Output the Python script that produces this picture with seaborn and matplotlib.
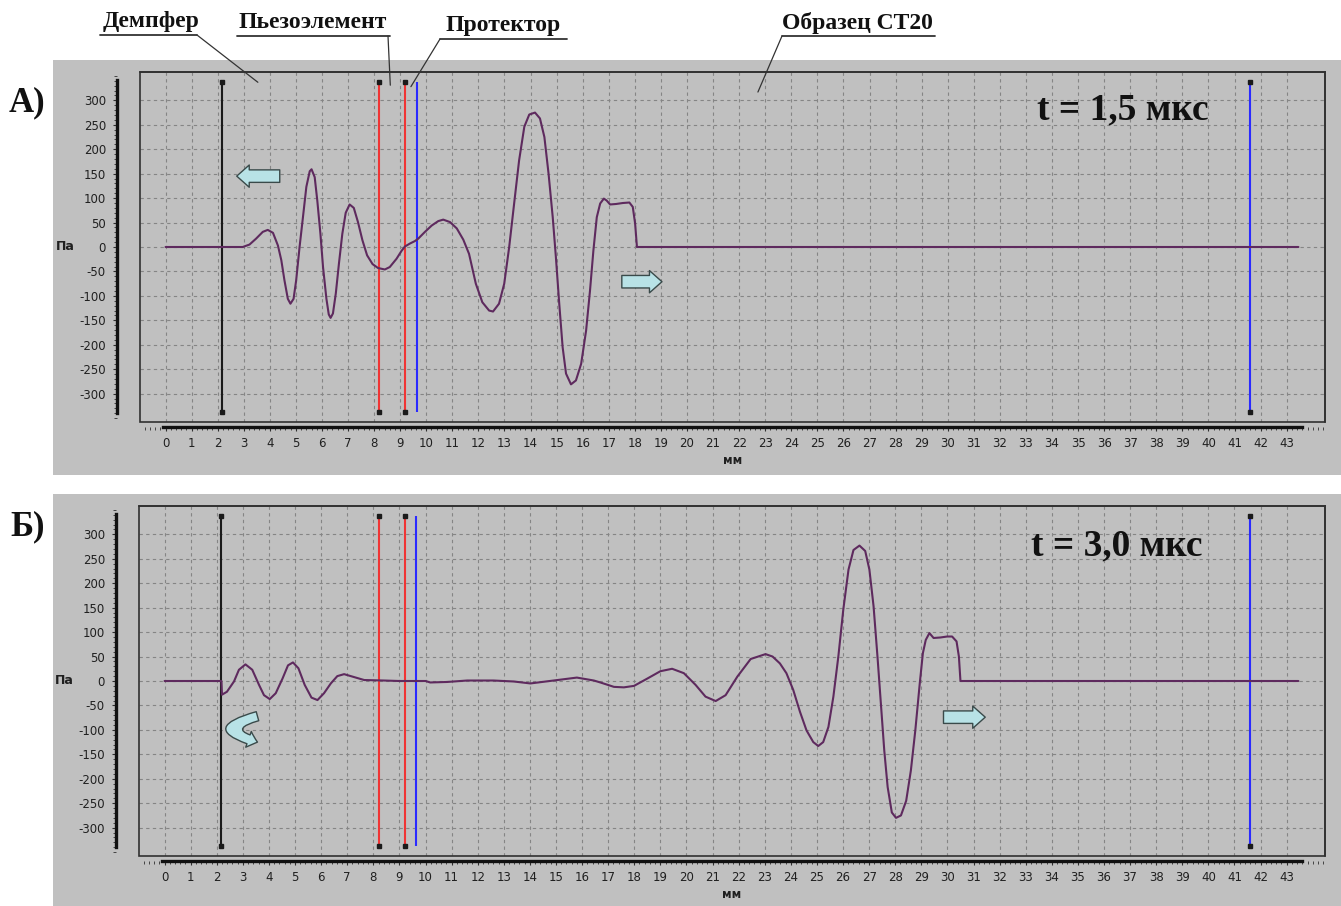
import matplotlib
matplotlib.use("Agg")
import matplotlib.pyplot as plt
import seaborn as sns
from matplotlib.lines import Line2D
from matplotlib.patches import Rectangle
from matplotlib.ticker import MultipleLocator

# panel A: t = 1,5 мкс  (x in мм, pressure in Па)
xa = [0, 2.96, 3.22, 3.47, 3.73, 3.92, 4.12, 4.31, 4.44, 4.56,
      4.69, 4.79, 4.91, 5.01, 5.14, 5.27, 5.40, 5.53, 5.60, 5.72,
      5.82, 5.94, 6.04, 6.17, 6.26, 6.33, 6.42, 6.53, 6.65, 6.78,
      6.91, 7.06, 7.22, 7.38, 7.55, 7.73, 7.94, 8.15, 8.41, 8.60,
      8.86, 9.05, 9.18, 9.37, 9.56, 9.69, 9.95, 10.21, 10.46, 10.65,
      10.91, 11.17, 11.42, 11.64, 11.9, 12.15, 12.41, 12.56, 12.79, 12.99,
      13.18, 13.37, 13.56, 13.76, 13.95, 14.17, 14.36, 14.53, 14.69, 14.85,
      14.97, 15.1, 15.23, 15.36, 15.55, 15.74, 15.94, 16.13, 16.28, 16.41,
      16.54, 16.67, 16.81, 16.92, 17.05, 17.28, 17.54, 17.79, 17.92, 18.01,
      18.08, 43.45]
pa = [0, 0, 5, 17, 31, 35, 29, 3, -27, -68,
      -106, -116, -106, -68, 0, 61, 123, 155, 159, 143,
      95, 27, -41, -106, -138, -145, -136, -95, -34, 27,
      70, 87, 80, 51, 14, -17, -35, -43, -46, -41,
      -24, -8, 1, 7, 12, 17, 31, 44, 53, 56,
      51, 38, 15, -14, -75, -113, -130, -132, -116, -75,
      0, 89, 177, 246, 271, 275, 263, 225, 150, 61,
      -20, -116, -205, -259, -281, -273, -239, -171, -89, -7,
      61, 89, 99, 95, 87, 88, 90, 91, 82, 48,
      0, 0]

# panel B: t = 3,0 мкс
xb = [0, 2.18, 2.2, 2.39, 2.66, 2.85, 3.1, 3.36, 3.62, 3.81,
      4.03, 4.26, 4.52, 4.73, 4.92, 5.13, 5.37, 5.63, 5.86, 6.11,
      6.37, 6.62, 6.88, 7.2, 7.65, 8.4, 9.0, 10.0, 10.18, 10.82,
      11.6, 12.6, 13.38, 14.02, 14.91, 15.8, 16.45, 16.7, 17.22, 17.6,
      17.99, 18.5, 19.0, 19.45, 19.9, 20.35, 20.73, 21.12, 21.5, 21.95,
      22.46, 23.03, 23.3, 23.58, 23.83, 24.09, 24.35, 24.6, 24.86, 25.05,
      25.24, 25.44, 25.63, 25.82, 26.01, 26.21, 26.4, 26.63, 26.85, 27.01,
      27.17, 27.32, 27.45, 27.58, 27.71, 27.87, 28.03, 28.22, 28.42, 28.6,
      28.77, 28.94, 29.06, 29.17, 29.31, 29.47, 29.73, 29.99, 30.18, 30.35,
      30.44, 30.5, 43.45]
pb = [0, 0, -28, -22, -1, 23, 34, 23, -8, -29,
      -37, -25, 5, 32, 38, 26, -8, -34, -39, -25,
      -5, 10, 14, 9, 2, 1, 0, 0, -3, -2,
      1, 1, -1, -5, 1, 7, 1, -3, -12, -13,
      -10, 5, 20, 25, 16, -8, -32, -41, -29, 9,
      45, 55, 50, 36, 16, -18, -63, -101, -125, -133,
      -125, -94, -32, 50, 146, 228, 268, 277, 266, 228,
      153, 50, -46, -142, -217, -269, -280, -275, -245, -183,
      -101, -5, 57, 84, 98, 88, 89, 91, 91, 81,
      50, 0, 0]

# layer boundaries (мм)
marker_x = [2.18, 8.2, 9.2, 9.65, 41.6]
marker_col = ["#1a1a1a", "#f03434", "#f03434", "#2a2aff", "#2a2aff"]
marker_dots = [True, True, True, False, True]
marker_top = 337

x_ticks = list(range(0, 44))
y_ticks = list(range(-300, 301, 50))

sns.set_style("ticks")
plt.rcParams["font.family"] = ["DejaVu Sans"]
plt.rcParams["axes.unicode_minus"] = False
plt.rcParams["xtick.color"] = "#303030"
plt.rcParams["ytick.color"] = "#303030"

W, H = 1341, 906
fig = plt.figure(figsize=(W / 100, H / 100), dpi=100)
fig.patch.set_facecolor("white")
GRAY = "#c0c0c0"
SERIF = ["Liberation Serif", "DejaVu Serif"]


def fx(px):
    return px / W


def fy(py):
    return 1 - py / H


def arrow(ax, start, end, rad=0.0, scale=20):
    ax.annotate("", xy=end, xytext=start, xycoords="data", textcoords="data",
                arrowprops=dict(arrowstyle="simple,head_length=0.45,head_width=0.8,tail_width=0.45",
                                connectionstyle=f"arc3,rad={rad}", mutation_scale=scale,
                                facecolor="#b8e2e6", edgecolor="#3a4a4a", lw=1.0,
                                shrinkA=0, shrinkB=0), zorder=6)


def panel(top, bottom, left, xs, ps, tlabel, tpos, letter, letter_xy):
    fig.add_artist(Rectangle((fx(53), fy(bottom + 53)), 1 - fx(53), (bottom + 53 - top + 12) / H,
                             transform=fig.transFigure, facecolor=GRAY, edgecolor="none",
                             zorder=-2))
    ax = fig.add_axes([fx(left), fy(bottom), (1325 - left) / W, (bottom - top) / H])
    ax.set_facecolor(GRAY)
    sns.lineplot(x=xs, y=ps, ax=ax, color="#5e2a5e", linewidth=1.5, sort=False,
                 estimator=None, zorder=4)
    for mx, mc, md in zip(marker_x, marker_col, marker_dots):
        ax.vlines(mx, -marker_top, marker_top, color=mc, linewidth=1.5, zorder=3)
        if md:
            ax.plot([mx, mx], [-marker_top, marker_top], linestyle="none", marker="s",
                    markersize=3.2, color="#1a1a1a", zorder=5)
    ax.set_xlim(-0.98, 44.47)
    ax.set_ylim(-358, 358)
    ax.set_xticks(x_ticks)
    ax.set_yticks(y_ticks)
    ax.xaxis.set_minor_locator(MultipleLocator(0.2))
    ax.yaxis.set_minor_locator(MultipleLocator(10))
    ax.grid(True, which="major", color="#858585", linestyle=(0, (3, 3)), linewidth=0.8)
    ax.tick_params(axis="both", which="major", labelsize=8.5, length=3, width=0.8,
                   labelcolor="#202020")
    ax.tick_params(axis="both", which="minor", length=2, width=0.6)
    ax.tick_params(axis="x", which="major", pad=4)
    ax.tick_params(axis="y", which="major", pad=5)
    for s in ["top", "right"]:
        ax.spines[s].set_linewidth(1.2)
        ax.spines[s].set_color("#303030")
    ax.spines["left"].set_position(("outward", 16.5))
    ax.spines["bottom"].set_position(("outward", 3.6))
    ax.spines["left"].set_bounds(-340, 341)
    ax.spines["bottom"].set_bounds(-0.1, 43.6)
    for s in ["left", "bottom"]:
        ax.spines[s].set_linewidth(2.4)
        ax.spines[s].set_color("#111111")
    ax.add_patch(Rectangle((0, 0), 1, 1, transform=ax.transAxes, fill=False,
                           edgecolor="#303030", linewidth=1.2, clip_on=False, zorder=7))
    ax.set_xlabel("мм", fontsize=8.5, fontweight="bold", labelpad=3, color="#202020")
    ax.set_ylabel("")
    ax.annotate("Па", xy=(0, 0), xycoords=("axes fraction", "data"), xytext=(-54, 0),
                textcoords="offset points", ha="center", va="center", fontsize=9,
                fontweight="bold", color="#202020")
    ax.text(tpos[0], tpos[1], tlabel, ha="center", va="center", fontsize=27,
            fontweight="bold", family=SERIF, color="#111111")
    fig.text(fx(letter_xy[0]), fy(letter_xy[1]), letter, ha="center", va="center",
             fontsize=25, fontweight="bold", family=SERIF, color="#111111")
    return ax


axA = panel(72, 422, 140, xa, pa, "t = 1,5 мкс", (36.7, 280), "А)", (27, 103))
axB = panel(506, 856, 139, xb, pb, "t = 3,0 мкс", (36.5, 277), "Б)", (28, 527))

# direction arrows
arrow(axA, (4.38, 145), (2.73, 145))
arrow(axA, (17.5, -71), (19.04, -71))
arrow(axB, (29.85, -74), (31.45, -74))
arrow(axB, (3.56, -72), (3.56, -125), rad=1.8, scale=15)

# layer captions with leader lines
captions = [
    ("Демпфер", 151, 100, 197, 35, (3.54, 337), 197),
    ("Пьезоэлемент", 313, 237, 390, 36, (8.62, 331), 388),
    ("Протектор", 503, 440, 567, 39, (9.41, 328), 440),
    ("Образец СТ20", 857, 782, 935, 36, (22.72, 317), 782),
]
for label, cx, ux0, ux1, uy, target, lx in captions:
    fig.text(fx(cx), fy(uy - 13), label, ha="center", va="center", fontsize=17,
             fontweight="bold", family=SERIF, color="#111111")
    fig.add_artist(Line2D([fx(ux0), fx(ux1)], [fy(uy), fy(uy)], transform=fig.transFigure,
                          color="#333333", linewidth=1.3))
    axA.annotate("", xy=target, xycoords="data", xytext=(fx(lx), fy(uy)),
                 textcoords="figure fraction", annotation_clip=False,
                 arrowprops=dict(arrowstyle="-", color="#333333", lw=0.9,
                                 shrinkA=0, shrinkB=0))

fig.savefig("out.png", dpi=100, facecolor="white")
